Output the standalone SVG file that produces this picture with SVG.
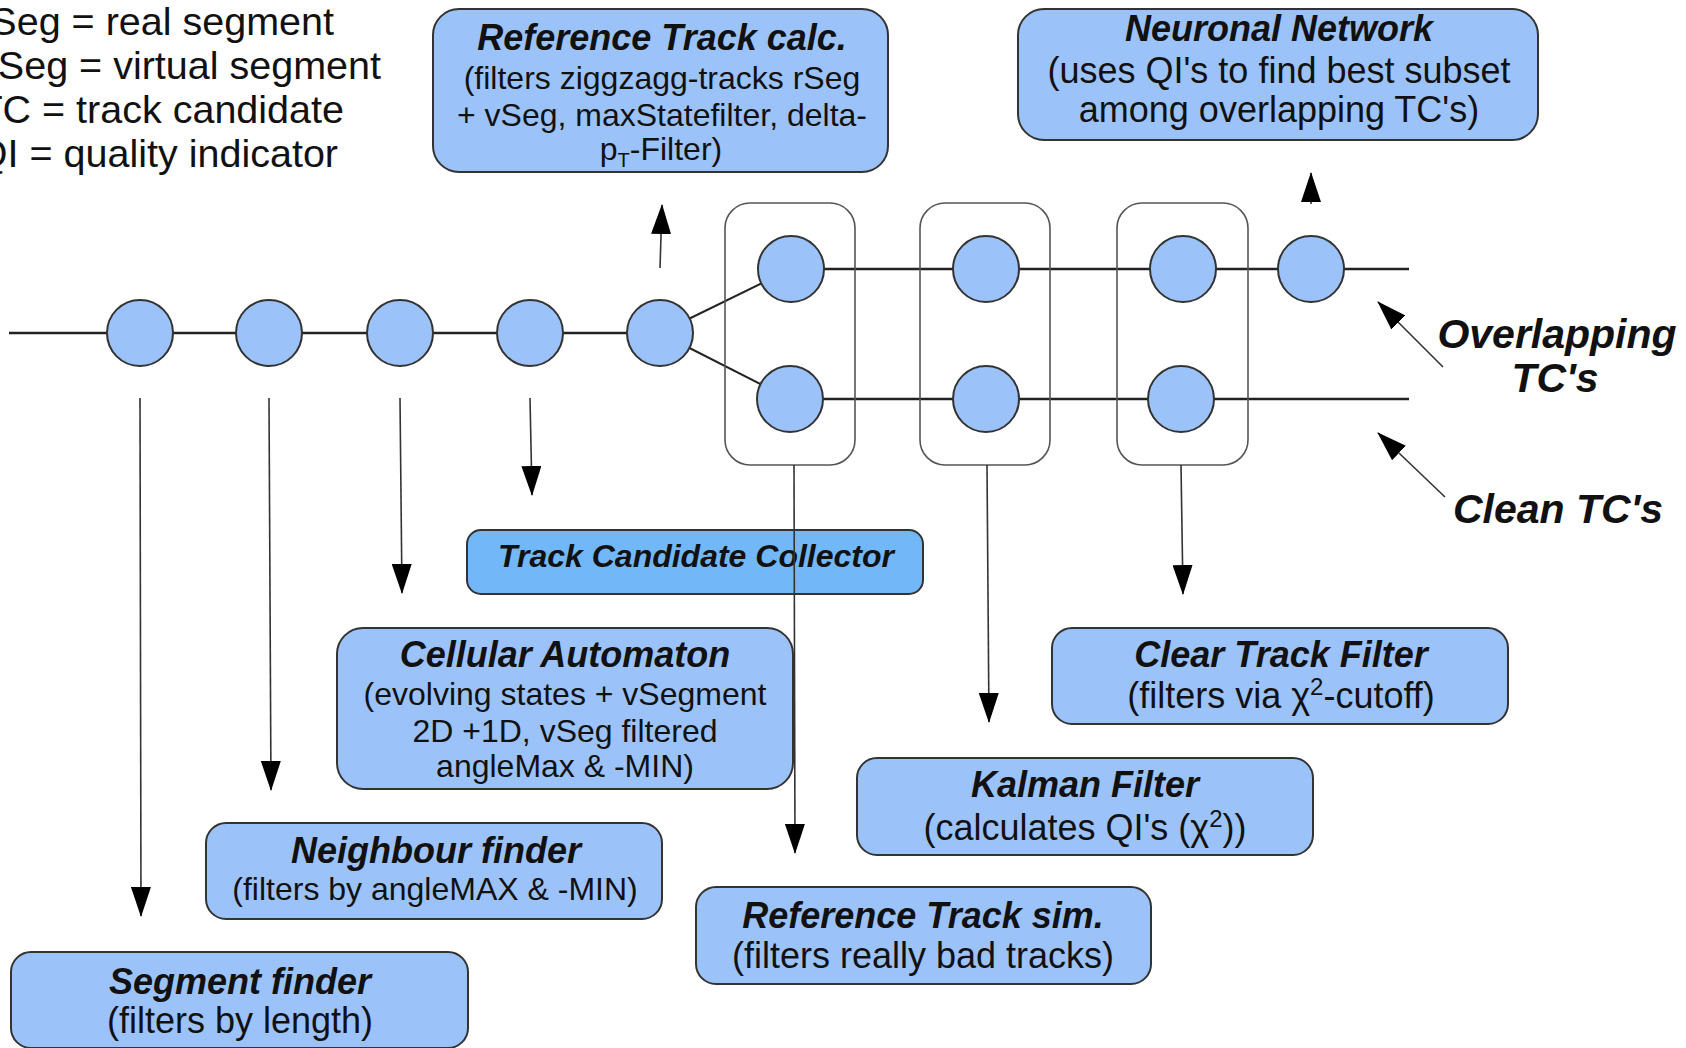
<svg xmlns="http://www.w3.org/2000/svg" width="1686" height="1048" viewBox="0 0 1686 1048">
<style>
  text { font-family: "Liberation Sans", Arial, sans-serif; fill: #111; }
  .t { font-weight: bold; font-style: italic; font-size: 36px; text-anchor: middle; }
  .s32 { font-size: 32px; text-anchor: middle; }
  .s36 { font-size: 36px; text-anchor: middle; }
  .leg { font-size: 39.5px; text-anchor: end; }
  .lab { font-weight: bold; font-style: italic; font-size: 41px; text-anchor: middle; }
  .box { fill: #9cc3f9; stroke: #333; stroke-width: 2; }
  .tcc { fill: #72b7f8; stroke: #333; stroke-width: 2; }
  .node { fill: #9cc3f9; stroke: #333; stroke-width: 2; }
  .grp { fill: none; stroke: #555; stroke-width: 1.6; }
  .track { stroke: #222; stroke-width: 2.6; fill: none; }
  .conn { stroke: #333; stroke-width: 1.6; fill: none; marker-end: url(#ah); }
</style>
<defs>
  <marker id="ah" markerUnits="userSpaceOnUse" markerWidth="30" markerHeight="20" viewBox="0 0 30 20" refX="29" refY="10" orient="auto">
    <path d="M0,0 L30,10 L0,20 Z" fill="#000"/>
  </marker>
</defs>

<g id="legend">
  <text class="leg" x="334" y="35">rSeg = real segment</text>
  <text class="leg" x="381" y="79">vSeg = virtual segment</text>
  <text class="leg" x="344" y="123">TC = track candidate</text>
  <text class="leg" x="338" y="167">QI = quality indicator</text>
</g>

<g id="connectors">
  <line class="track" x1="9" y1="333" x2="660" y2="333"/>
  <line class="track" x1="660" y1="333" x2="791" y2="269" style="stroke-width:2"/>
  <line class="track" x1="660" y1="333" x2="790" y2="399" style="stroke-width:2"/>
  <line class="track" x1="791" y1="269" x2="1409" y2="269"/>
  <line class="track" x1="790" y1="399" x2="1409" y2="399"/>
  <line class="conn" x1="660" y1="268" x2="662" y2="205"/>
  <line class="conn" x1="1311" y1="204" x2="1311" y2="173"/>
  <line class="conn" x1="140" y1="398" x2="141" y2="916"/>
  <line class="conn" x1="269" y1="398" x2="271" y2="790"/>
  <line class="conn" x1="400" y1="398" x2="402" y2="593"/>
  <line class="conn" x1="530" y1="398" x2="532" y2="495"/>
  <line class="conn" x1="1443" y1="367" x2="1378" y2="302"/>
  <line class="conn" x1="1445" y1="497" x2="1378" y2="433"/>
</g>

<g id="node-ref-calc">
  <rect class="box" x="433" y="9" width="455" height="163" rx="26"/>
  <text class="t" x="662" y="50">Reference Track calc.</text>
  <text class="s32" x="662" y="89">(filters ziggzagg-tracks rSeg</text>
  <text class="s32" x="662" y="126">+ vSeg, maxStatefilter, delta-</text>
  <text class="s32" x="661" y="160">p<tspan font-size="20" dy="7">T</tspan><tspan dy="-7">-Filter)</tspan></text>
</g>

<g id="node-neuronal">
  <rect class="box" x="1018" y="9" width="520" height="131" rx="26"/>
  <text class="t" x="1279" y="41">Neuronal Network</text>
  <text class="s36" x="1279" y="83">(uses QI's to find best subset</text>
  <text class="s36" x="1279" y="122">among overlapping TC's)</text>
</g>

<g id="track-nodes">
  <ellipse class="node" cx="140" cy="333" rx="33" ry="33"/>
  <ellipse class="node" cx="269" cy="333" rx="33" ry="33"/>
  <ellipse class="node" cx="400" cy="333" rx="33" ry="33"/>
  <ellipse class="node" cx="530" cy="333" rx="33" ry="33"/>
  <ellipse class="node" cx="660" cy="333" rx="33" ry="33"/>
</g>

<g id="stage-1">
  <rect class="grp" x="725" y="203" width="130" height="262" rx="25"/>
  <ellipse class="node" cx="791" cy="269" rx="33" ry="33"/>
  <ellipse class="node" cx="790" cy="399" rx="33" ry="33"/>
</g>
<g id="stage-2">
  <rect class="grp" x="920" y="203" width="130" height="262" rx="25"/>
  <ellipse class="node" cx="986" cy="269" rx="33" ry="33"/>
  <ellipse class="node" cx="986" cy="399" rx="33" ry="33"/>
</g>
<g id="stage-3">
  <rect class="grp" x="1117" y="203" width="131" height="262" rx="25"/>
  <ellipse class="node" cx="1183" cy="269" rx="33" ry="33"/>
  <ellipse class="node" cx="1181" cy="399" rx="33" ry="33"/>
</g>
<g id="node-final">
  <ellipse class="node" cx="1311" cy="269" rx="33" ry="33"/>
</g>

<g id="node-tcc">
  <rect class="tcc" x="467" y="530" width="456" height="64" rx="14"/>
  <text class="s32" x="696" y="567" font-weight="bold" font-style="italic">Track Candidate Collector</text>
</g>

<g id="node-cellular">
  <rect class="box" x="337" y="628" width="456" height="161" rx="26"/>
  <text class="t" x="565" y="667">Cellular Automaton</text>
  <text class="s32" x="565" y="705">(evolving states + vSegment</text>
  <text class="s32" x="565" y="742">2D +1D, vSeg filtered</text>
  <text class="s32" x="565" y="777">angleMax &amp; -MIN)</text>
</g>

<g id="node-neighbour">
  <rect class="box" x="206" y="823" width="456" height="96" rx="20"/>
  <text class="t" x="436" y="863">Neighbour finder</text>
  <text class="s32" x="435" y="900">(filters by angleMAX &amp; -MIN)</text>
</g>

<g id="node-segment">
  <rect class="box" x="11" y="952" width="457" height="96" rx="20"/>
  <text class="t" x="240" y="994">Segment finder</text>
  <text class="s36" x="240" y="1033">(filters by length)</text>
</g>

<g id="node-clear">
  <rect class="box" x="1052" y="628" width="456" height="96" rx="20"/>
  <text class="t" x="1281" y="667">Clear Track Filter</text>
  <text class="s36" x="1281" y="708">(filters via χ<tspan font-size="24" dy="-13">2</tspan><tspan dy="13">-cutoff)</tspan></text>
</g>

<g id="node-kalman">
  <rect class="box" x="857" y="758" width="456" height="97" rx="20"/>
  <text class="t" x="1085" y="797">Kalman Filter</text>
  <text class="s36" x="1085" y="840">(calculates QI's (χ<tspan font-size="24" dy="-13">2</tspan><tspan dy="13">))</tspan></text>
</g>

<g id="node-ref-sim">
  <rect class="box" x="696" y="887" width="455" height="97" rx="20"/>
  <text class="t" x="923" y="928">Reference Track sim.</text>
  <text class="s36" x="923" y="968">(filters really bad tracks)</text>
</g>

<g id="stage-connectors">
  <line class="conn" x1="794" y1="465" x2="795" y2="853"/>
  <line class="conn" x1="987" y1="465" x2="989" y2="722"/>
  <line class="conn" x1="1181" y1="465" x2="1183" y2="594"/>
</g>

<g id="labels">
  <text class="lab" x="1557" y="348">Overlapping</text>
  <text class="lab" x="1555" y="392">TC's</text>
  <text class="lab" x="1558" y="523">Clean TC's</text>
</g>
</svg>
